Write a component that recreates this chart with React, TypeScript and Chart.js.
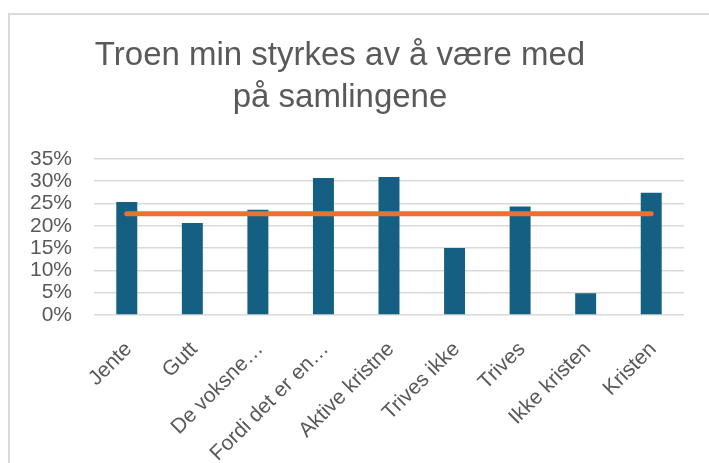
import React, { useEffect, useRef } from "react";
import { Chart, registerables } from "chart.js";

Chart.register(...registerables);

const titleLines = ["Troen min styrkes av å være med", "på samlingene"];
const categories = [
  "Jente",
  "Gutt",
  "De voksne…",
  "Fordi det er en…",
  "Aktive kristne",
  "Trives ikke",
  "Trives",
  "Ikke kristen",
  "Kristen",
];
const barValues = [0.253, 0.206, 0.236, 0.307, 0.309, 0.15, 0.243, 0.049, 0.274];
const averageValue = 0.227;
const averageValues = categories.map(() => averageValue);

const FONT = "'Liberation Sans', Arial, sans-serif";
const TEXT = "#595959";

export default function App() {
  const ref = useRef<HTMLCanvasElement | null>(null);
  useEffect(() => {
    if (!ref.current) return;
    const chart = new Chart(ref.current, {
      type: "bar",
      data: {
        labels: categories,
        datasets: [
          {
            type: "line",
            data: averageValues,
            borderColor: "#E97132",
            borderWidth: 5,
            borderCapStyle: "round",
            pointRadius: 0,
            fill: false,
            order: 0,
          } as any,
          {
            type: "bar",
            data: barValues,
            backgroundColor: "#156082",
            barPercentage: 0.64,
            categoryPercentage: 0.5,
            order: 1,
          },
        ],
      },
      options: {
        responsive: false,
        animation: false,
        devicePixelRatio: 1,
        layout: { padding: { top: 0, right: 25, left: -14, bottom: 0 } },
        plugins: {
          legend: { display: false },
          tooltip: { enabled: false },
          title: {
            display: true,
            text: titleLines,
            color: TEXT,
            font: { family: FONT, size: 33, weight: "normal", lineHeight: 1.3 },
            padding: { top: 19, bottom: 39 },
          },
        },
        scales: {
          x: {
            grid: { display: false },
            border: { display: false },
            ticks: {
              color: TEXT,
              font: { family: FONT, size: 21 },
              minRotation: 45,
              maxRotation: 45,
              autoSkip: false,
              padding: 14,
              labelOffset: 2,
            },
            afterFit: (s: any) => {
              s.height = 148;
            },
          },
          y: {
            min: 0,
            max: 0.35,
            grid: { color: "#d9d9d9", lineWidth: 1.5, drawTicks: false },
            border: { display: false },
            ticks: {
              stepSize: 0.05,
              autoSkip: false,
              color: TEXT,
              font: { family: FONT, size: 21 },
              padding: 22,
              callback: (v: any) => Math.round(Number(v) * 100) + "%",
            },
            afterFit: (s: any) => {
              s.width = 98;
            },
          },
        },
      },
    });
    return () => chart.destroy();
  }, []);
  return (
    <div
      style={{
        position: "absolute",
        left: 8,
        top: 13,
        width: 699,
        height: 448,
        borderTop: "2px solid #d9d9d9",
        borderLeft: "2px solid #d9d9d9",
        background: "#fff",
      }}
    >
      <canvas ref={ref} width={699} height={448} style={{ display: "block" }} />
    </div>
  );
}
